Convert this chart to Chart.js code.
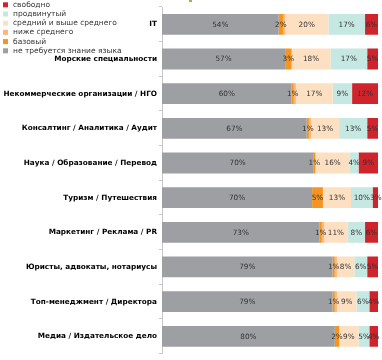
<!DOCTYPE html>
<html lang="ru">
<head>
<meta charset="UTF-8">
<title>Языки по сферам</title>
<script src="https://cdn.jsdelivr.net/npm/chart.js@4.4.1/dist/chart.umd.min.js"></script>
<style>
  html, body { margin: 0; padding: 0; background: #fff; }
  #wrap { width: 382px; height: 360px; }
</style>
</head>
<body>
<div id="wrap"><canvas id="chart"></canvas></div>
<script>
const categories = [
  'IT',
  'Морские специальности',
  'Некоммерческие организации / НГО',
  'Консалтинг / Аналитика / Аудит',
  'Наука / Образование / Перевод',
  'Туризм / Путешествия',
  'Маркетинг / Реклама / PR',
  'Юристы, адвокаты, нотариусы',
  'Топ-менеджмент / Директора',
  'Медиа / Издательское дело'
]
const noLang   = [54, 57, 60, 67, 70, 69.5, 73, 79, 79, 80]
const basic    = [2, 3, 1, 1, 1, 5, 1, 1, 1, 2]
const belowMid = [1, 0, 1, 1, 0, 0, 1, 1, 1, 0]
const midUp    = [20, 18, 17, 13, 16, 13, 11, 8, 9, 9]
const advanced = [17, 17, 9, 13, 4, 10, 8, 6, 6, 5]
const fluent   = [6, 5, 12, 5, 9, 3, 6, 5, 4, 4]

const font = 'DejaVu Sans'

// подписи значений внутри сегментов
const valueLabels = {
  id: 'valueLabels',
  afterDatasetsDraw(chart) {
    const ctx = chart.ctx
    ctx.save()
    ctx.font = '7.3px "' + font + '"'
    ctx.fillStyle = '#333'
    ctx.textAlign = 'center'
    ctx.textBaseline = 'middle'
    chart.data.datasets.forEach((ds, di) => {
      if (ds.noLabel) return
      chart.getDatasetMeta(di).data.forEach((bar, i) => {
        const v = ds.data[i]
        if (!v) return
        const cx = (bar.x + bar.base) / 2
        ctx.fillText(Math.round(v) + '%', cx, bar.y + 0.5)
      })
    })
    ctx.restore()
  }
}

// легенда поверх левого верхнего угла
const cornerLegend = {
  id: 'cornerLegend',
  afterDraw(chart) {
    const ctx = chart.ctx
    ctx.save()
    ctx.font = '7.5px "' + font + '"'
    ctx.textBaseline = 'middle'
    ctx.textAlign = 'left'
    const sets = chart.data.datasets.slice().reverse()
    sets.forEach((ds, k) => {
      const y = 4.8 + k * 9.2
      ctx.fillStyle = ds.backgroundColor
      ctx.fillRect(3, y - 2.5, 5, 5)
      ctx.fillStyle = '#333'
      ctx.fillText(ds.label, 13, y)
    })
    ctx.fillStyle = '#7ac943'
    ctx.fillRect(189, 0, 3, 2)
    ctx.restore()
  }
}

new Chart(document.getElementById('chart'), {
  type: 'bar',
  data: {
    labels: categories,
    datasets: [
      { label: 'не требуется знание языка', data: noLang, backgroundColor: '#9e9fa3' },
      { label: 'базовый', data: basic, backgroundColor: '#f7941e' },
      { label: 'ниже среднего', data: belowMid, backgroundColor: '#fbb77c', noLabel: true },
      { label: 'средний и выше среднего', data: midUp, backgroundColor: '#fde0c2' },
      { label: 'продвинутый', data: advanced, backgroundColor: '#c5e8e2' },
      { label: 'свободно', data: fluent, backgroundColor: '#cf242c' }
    ]
  },
  options: {
    indexAxis: 'y',
    responsive: true,
    maintainAspectRatio: false,
    animation: false,
    devicePixelRatio: 1,
    layout: { padding: { top: 7, right: 4, bottom: 0, left: 0 } },
    datasets: { bar: { categoryPercentage: 0.6, barPercentage: 1 } },
    plugins: { legend: { display: false }, tooltip: { enabled: false } },
    scales: {
      x: {
        stacked: true, min: 0, max: 100, display: false
      },
      y: {
        stacked: true,
        afterFit(scale) { scale.width = 162 },
        border: { color: '#c8c8c8' },
        grid: {
          drawOnChartArea: false,
          tickLength: 3,
          color: '#c8c8c8',
          offset: true
        },
        ticks: {
          padding: 2,
          color: '#000',
          font: { family: font, size: 7.3, weight: 'bold' }
        }
      }
    }
  },
  plugins: [valueLabels, cornerLegend]
})
</script>
</body>
</html>
